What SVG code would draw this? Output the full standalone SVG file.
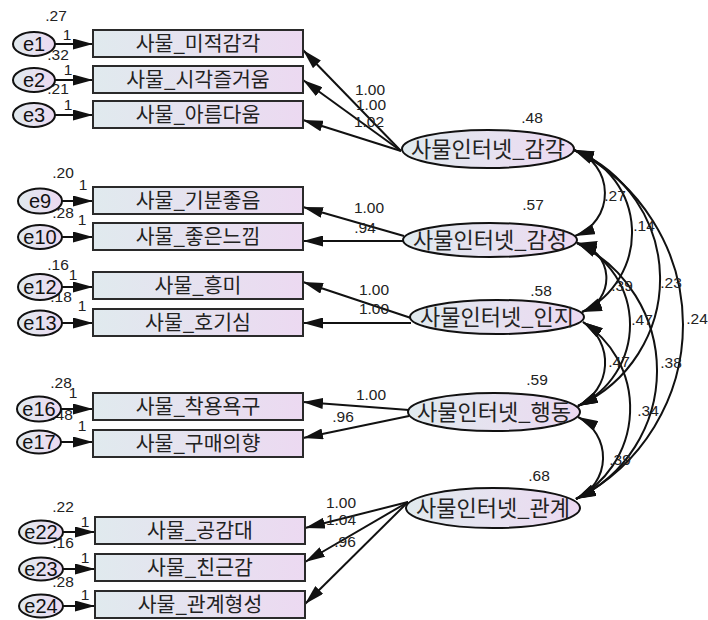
<svg xmlns="http://www.w3.org/2000/svg" width="708" height="620" viewBox="0 0 708 620">
<defs>
<linearGradient id="grad" x1="0" y1="0" x2="1" y2="0">
<stop offset="0" stop-color="#e0eaee"/>
<stop offset="1" stop-color="#ecd9f1"/>
</linearGradient>
<marker id="ah" viewBox="0 0 20 11" refX="20" refY="5.5" markerWidth="20" markerHeight="11" markerUnits="userSpaceOnUse" orient="auto-start-reverse">
<path d="M0,0 L20,5.5 L0,11 z" fill="#111"/>
</marker>
<style>
.box{fill:url(#grad);stroke:#2a2a2a;stroke-width:2}
.lat{fill:url(#grad);stroke:#111;stroke-width:2}
.err{fill:url(#grad);stroke:#111;stroke-width:2}
.kt{font-family:"Noto Sans CJK KR","Noto Sans",sans-serif;font-size:20.5px;fill:#222;text-anchor:middle}
.lt{font-family:"Noto Sans CJK KR","Noto Sans",sans-serif;font-size:22px;fill:#222;text-anchor:middle}
.et{font-family:"Liberation Sans",Arial,sans-serif;font-size:20px;fill:#111;text-anchor:middle}
.n{font-family:"Liberation Sans",Arial,sans-serif;font-size:15.5px;fill:#222;text-anchor:middle}
.ln{fill:none;stroke:#111;stroke-width:2;marker-end:url(#ah)}
.cv{fill:none;stroke:#111;stroke-width:2;marker-start:url(#ah);marker-end:url(#ah)}
</style>
</defs>
<rect width="708" height="620" fill="#ffffff"/>

<g id="connectors">
<path class="ln" d="M55,44 L93,44"/>
<path class="ln" d="M55,80 L93,80"/>
<path class="ln" d="M55,115 L93,115"/>
<path class="ln" d="M62,201 L93,201"/>
<path class="ln" d="M62,237 L93,237"/>
<path class="ln" d="M62,287 L93,287"/>
<path class="ln" d="M62,323 L93,323"/>
<path class="ln" d="M61,409 L93,409"/>
<path class="ln" d="M61,442 L93,442"/>
<path class="ln" d="M63,532 L95,532"/>
<path class="ln" d="M63,569 L95,569"/>
<path class="ln" d="M63,606 L95,606"/>
<path class="ln" d="M401,151 L303,50"/>
<path class="ln" d="M401,151 L303,80"/>
<path class="ln" d="M401,151 L303,120"/>
<path class="ln" d="M404,236 L303,207"/>
<path class="ln" d="M404,241 L303,241"/>
<path class="ln" d="M411,318 L303,282"/>
<path class="ln" d="M411,323 L303,323"/>
<path class="ln" d="M409,410 L303,402"/>
<path class="ln" d="M409,416 L303,438"/>
<path class="ln" d="M408,502 L305,528"/>
<path class="ln" d="M408,502 L305,562"/>
<path class="ln" d="M408,502 L305,604"/>
<path class="cv" d="M574,150 A45.6,45.6 0 0 1 575,236"/>
<path class="cv" d="M574,150 A87.9,87.9 0 0 1 582,312"/>
<path class="cv" d="M574,150 A139.5,139.5 0 0 1 578,406"/>
<path class="cv" d="M574,150 A195,195 0 0 1 576,499"/>
<path class="cv" d="M577,243 A35.7,35.7 0 0 1 582,312"/>
<path class="cv" d="M577,243 A89.5,89.5 0 0 1 578,406"/>
<path class="cv" d="M577,243 A142,142 0 0 1 576,499"/>
<path class="cv" d="M583,322 A48.3,48.3 0 0 1 578,406"/>
<path class="cv" d="M583,322 A102.8,102.8 0 0 1 576,499"/>
<path class="cv" d="M578,417 A45.3,45.3 0 0 1 576,499"/>
</g>

<g id="labels">
<text class="n" x="56" y="21">.27</text>
<text class="n" x="67" y="40">1</text>
<text class="n" x="58" y="60">.32</text>
<text class="n" x="68" y="75">1</text>
<text class="n" x="58" y="94">.21</text>
<text class="n" x="68" y="110">1</text>
<text class="n" x="63" y="178">.20</text>
<text class="n" x="83" y="190">1</text>
<text class="n" x="63" y="218">.28</text>
<text class="n" x="82" y="225">1</text>
<text class="n" x="58" y="270">.16</text>
<text class="n" x="73" y="280">1</text>
<text class="n" x="61" y="302">.18</text>
<text class="n" x="82" y="311">1</text>
<text class="n" x="61" y="388">.28</text>
<text class="n" x="73" y="398">1</text>
<text class="n" x="62" y="420">.48</text>
<text class="n" x="82" y="431">1</text>
<text class="n" x="63" y="512">.22</text>
<text class="n" x="85" y="527">1</text>
<text class="n" x="63" y="548">.16</text>
<text class="n" x="85" y="563">1</text>
<text class="n" x="63" y="587">.28</text>
<text class="n" x="85" y="600">1</text>

<text class="n" x="370" y="95">1.00</text>
<text class="n" x="371" y="110">1.00</text>
<text class="n" x="369" y="127">1.02</text>
<text class="n" x="532" y="123">.48</text>
<text class="n" x="369" y="213">1.00</text>
<text class="n" x="365" y="233">.94</text>
<text class="n" x="533" y="210">.57</text>
<text class="n" x="374" y="295">1.00</text>
<text class="n" x="374" y="314">1.00</text>
<text class="n" x="541" y="296">.58</text>
<text class="n" x="371" y="400">1.00</text>
<text class="n" x="343" y="422">.96</text>
<text class="n" x="537" y="385">.59</text>
<text class="n" x="539" y="481">.68</text>
<text class="n" x="341" y="508">1.00</text>
<text class="n" x="341" y="525">1.04</text>
<text class="n" x="345" y="547">.96</text>

<text class="n" x="615" y="201">.27</text>
<text class="n" x="644" y="231">.14</text>
<text class="n" x="671" y="288">.23</text>
<text class="n" x="622" y="291">.39</text>
<text class="n" x="697" y="324">.24</text>
<text class="n" x="642" y="325">.47</text>
<text class="n" x="619" y="367">.47</text>
<text class="n" x="671" y="368">.38</text>
<text class="n" x="648" y="416">.34</text>
<text class="n" x="620" y="465">.39</text>
</g>

<g id="e1"><ellipse class="err" cx="34" cy="44" rx="21" ry="12"/><text class="et" x="34" y="51">e1</text></g>
<g id="e2"><ellipse class="err" cx="34" cy="80" rx="21" ry="12"/><text class="et" x="34" y="87">e2</text></g>
<g id="e3"><ellipse class="err" cx="34" cy="115" rx="21" ry="12"/><text class="et" x="34" y="122">e3</text></g>
<g id="e9"><ellipse class="err" cx="40" cy="201" rx="22" ry="12.5"/><text class="et" x="40" y="208">e9</text></g>
<g id="e10"><ellipse class="err" cx="40" cy="237" rx="22" ry="12"/><text class="et" x="40" y="244">e10</text></g>
<g id="e12"><ellipse class="err" cx="40" cy="287" rx="22" ry="13"/><text class="et" x="40" y="294">e12</text></g>
<g id="e13"><ellipse class="err" cx="40" cy="323" rx="22" ry="12.5"/><text class="et" x="40" y="330">e13</text></g>
<g id="e16"><ellipse class="err" cx="39" cy="409" rx="22" ry="12.5"/><text class="et" x="39" y="416">e16</text></g>
<g id="e17"><ellipse class="err" cx="39" cy="442" rx="22" ry="11.5"/><text class="et" x="39" y="449">e17</text></g>
<g id="e22"><ellipse class="err" cx="41" cy="532" rx="22" ry="11.5"/><text class="et" x="41" y="539">e22</text></g>
<g id="e23"><ellipse class="err" cx="41" cy="569" rx="22" ry="11.5"/><text class="et" x="41" y="576">e23</text></g>
<g id="e24"><ellipse class="err" cx="41" cy="606" rx="22" ry="11.5"/><text class="et" x="41" y="613">e24</text></g>

<g id="b1"><rect class="box" x="93" y="30" width="210" height="27"/><text class="kt" x="198" y="51">사물_미적감각</text></g>
<g id="b2"><rect class="box" x="93" y="66" width="210" height="27"/><text class="kt" x="198" y="87">사물_시각즐거움</text></g>
<g id="b3"><rect class="box" x="93" y="101" width="210" height="27"/><text class="kt" x="198" y="122">사물_아름다움</text></g>
<g id="b4"><rect class="box" x="93" y="187" width="210" height="27"/><text class="kt" x="198" y="208">사물_기분좋음</text></g>
<g id="b5"><rect class="box" x="93" y="223" width="210" height="27"/><text class="kt" x="198" y="244">사물_좋은느낌</text></g>
<g id="b6"><rect class="box" x="93" y="272" width="210" height="27"/><text class="kt" x="198" y="293">사물_흥미</text></g>
<g id="b7"><rect class="box" x="93" y="309" width="210" height="27"/><text class="kt" x="198" y="330">사물_호기심</text></g>
<g id="b8"><rect class="box" x="93" y="393" width="210" height="27"/><text class="kt" x="198" y="414">사물_착용욕구</text></g>
<g id="b9"><rect class="box" x="93" y="430" width="210" height="27"/><text class="kt" x="198" y="451">사물_구매의향</text></g>
<g id="b10"><rect class="box" x="95" y="517" width="210" height="27"/><text class="kt" x="200" y="538">사물_공감대</text></g>
<g id="b11"><rect class="box" x="95" y="554" width="210" height="27"/><text class="kt" x="200" y="575">사물_친근감</text></g>
<g id="b12"><rect class="box" x="95" y="591" width="210" height="27"/><text class="kt" x="200" y="612">사물_관계형성</text></g>

<g id="L1"><ellipse class="lat" cx="488" cy="149" rx="86" ry="19"/><text class="lt" x="488" y="157">사물인터넷_감각</text></g>
<g id="L2"><ellipse class="lat" cx="490" cy="240" rx="87" ry="17"/><text class="lt" x="490" y="248">사물인터넷_감성</text></g>
<g id="L3"><ellipse class="lat" cx="497" cy="317" rx="87" ry="17"/><text class="lt" x="497" y="325">사물인터넷_인지</text></g>
<g id="L4"><ellipse class="lat" cx="494" cy="412" rx="86" ry="19"/><text class="lt" x="494" y="420">사물인터넷_행동</text></g>
<g id="L5"><ellipse class="lat" cx="493" cy="508" rx="87" ry="20"/><text class="lt" x="493" y="516">사물인터넷_관계</text></g>
</svg>
